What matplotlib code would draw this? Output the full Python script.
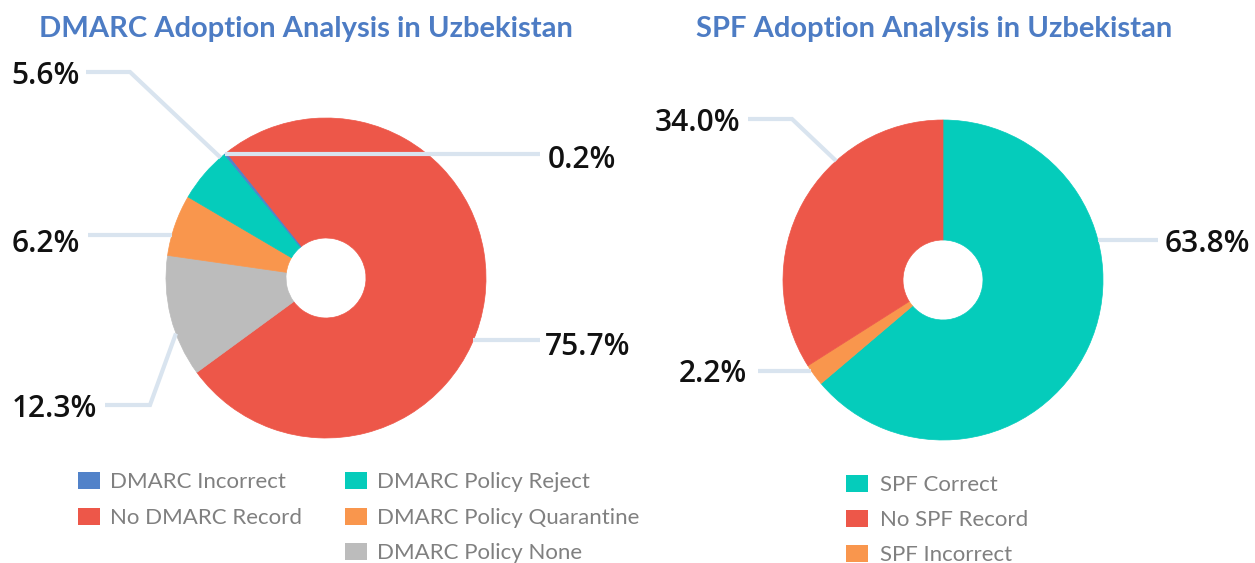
import numpy as np
import matplotlib.pyplot as plt
from matplotlib.patches import Rectangle

W, H = 1255, 563

# data
dmarc_labels = ['DMARC Incorrect', 'No DMARC Record', 'DMARC Policy None',
                'DMARC Policy Quarantine', 'DMARC Policy Reject']
dmarc_values = [0.2, 75.7, 12.3, 6.2, 5.6]
dmarc_colors = ['#5182c9', '#ed5749', '#bcbcbc', '#f9964d', '#05ccbb']

spf_labels = ['SPF Correct', 'SPF Incorrect', 'No SPF Record']
spf_values = [63.8, 2.2, 34.0]
spf_colors = ['#05ccbb', '#f9964d', '#ed5749']

TITLE_C = '#4d7cc4'
LINE_C = '#d9e4ef'
LEG_C = '#808080'


def py(y):
    # pixel row (from top) -> data y
    return H - y


def rim(cx, cy, r, ang):
    a = np.radians(ang)
    return cx + r * np.cos(a), cy - r * np.sin(a)


fig = plt.figure(figsize=(W / 100, H / 100), dpi=100)
ax = fig.add_axes([0, 0, 1, 1])

R, HOLE = 160, 40
pies = [
    (dmarc_values, dmarc_colors, (326, 278), 129.4),
    (spf_values, spf_colors, (943, 280), 90),
]
for vals, cols, (cx, cy), start in pies:
    wedges, _ = ax.pie(vals, colors=cols, startangle=start, counterclock=False,
                       center=(cx, py(cy)), radius=R,
                       wedgeprops=dict(width=R - HOLE, linewidth=0.5))
    for w, v in zip(wedges, vals):
        w.set_edgecolor(w.get_facecolor())
        if v < 1:
            w.set_zorder(2)

# leader lines: (pie centre, rim angle, path to label, label text, label pos, align)
labels = [
    ((326, 278), 129.0, [(540, None)], '0.2%', (548, 168), 'left'),
    ((326, 278), 131.2, [(130, 72), (86, 72)], '5.6%', (80, 84), 'right'),
    ((326, 278), 164.4, [(88, None)], '6.2%', (80, 252), 'right'),
    ((326, 278), 200.3, [(150, 405), (105, 405)], '12.3%', (97, 417), 'right'),
    ((326, 278), -22.8, [(540, None)], '75.7%', (545, 355), 'left'),
    ((943, 280), 131.9, [(792, 119), (748, 119)], '34.0%', (740, 131), 'right'),
    ((943, 280), 14.5, [(1158, None)], '63.8%', (1165, 252), 'left'),
    ((943, 280), 214.7, [(758, None)], '2.2%', (747, 382), 'right'),
]
for (cx, cy), ang, path, txt, (tx, ty), ha in labels:
    x0, y0 = rim(cx, cy, R, ang)
    xs, ys = [x0], [y0]
    for px, pyy in path:
        xs.append(px)
        ys.append(y0 if pyy is None else pyy)
    ax.plot(xs, [py(v) for v in ys], color=LINE_C, lw=3, solid_capstyle='butt',
            solid_joinstyle='miter', zorder=3)
    ax.text(tx, py(ty), txt, ha=ha, va='baseline', fontsize=21.5,
            fontweight='semibold', family='Open Sans', color='#111111', zorder=4)

# titles
ax.text(306, py(37), 'DMARC Adoption Analysis in Uzbekistan', ha='center',
        va='baseline', fontsize=21, fontweight='bold', family='Lato', color=TITLE_C)
ax.text(934, py(37), 'SPF Adoption Analysis in Uzbekistan', ha='center',
        va='baseline', fontsize=21, fontweight='bold', family='Lato', color=TITLE_C)

# legends: (label index, square x, text x, row baseline)
dmarc_leg = [(0, 78, 110, 488), (1, 78, 110, 524), (4, 345, 377, 488),
             (3, 345, 377, 524), (2, 345, 377, 559)]
for i, sx, tx, by in dmarc_leg:
    ax.add_patch(Rectangle((sx, py(by + 1)), 22, 17, color=dmarc_colors[i], lw=0))
    ax.text(tx, py(by), dmarc_labels[i], ha='left', va='baseline', fontsize=16,
            family='Lato', color=LEG_C)

spf_leg = [(0, 846, 880, 491), (2, 846, 880, 526), (1, 846, 880, 561)]
for i, sx, tx, by in spf_leg:
    ax.add_patch(Rectangle((sx, py(by + 1)), 22, 17, color=spf_colors[i], lw=0))
    ax.text(tx, py(by), spf_labels[i], ha='left', va='baseline', fontsize=16,
            family='Lato', color=LEG_C)

ax.set_xlim(0, W)
ax.set_ylim(0, H)
ax.set_aspect('equal')
ax.axis('off')

fig.savefig('out.png', dpi=100)
